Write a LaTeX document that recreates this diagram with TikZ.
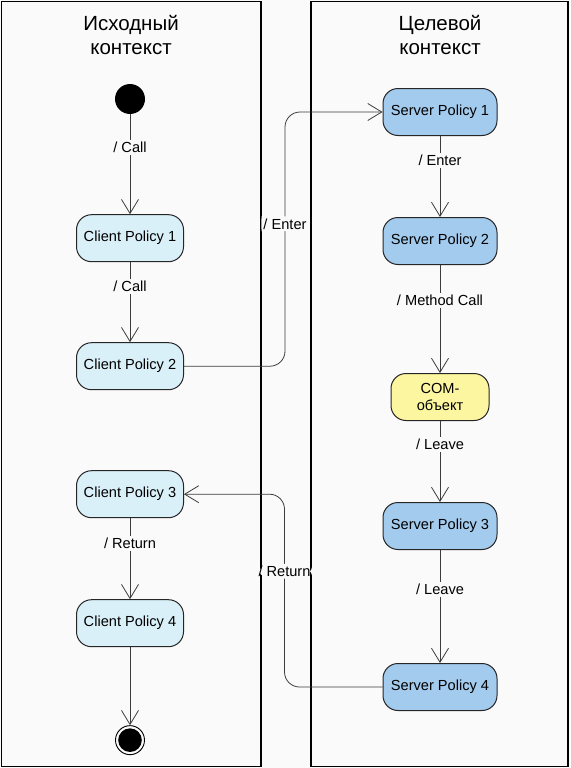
\documentclass[tikz,border=0pt]{standalone}
\usepackage{fontspec}
\setmainfont{Liberation Sans}
\usetikzlibrary{positioning,arrows.meta}

\definecolor{clientfill}{RGB}{218,240,248}
\definecolor{serverfill}{RGB}{163,203,238}
\definecolor{comfill}{RGB}{252,246,160}
\definecolor{edgegray}{RGB}{60,60,60}
\definecolor{pagebg}{RGB}{250,250,250}

\begin{document}
\begin{tikzpicture}[
    x=1pt, y=-1pt,
    lane/.style={draw=black, line width=1.5pt},
    title/.style={align=center, font=\fontsize{20.5}{24}\selectfont},
    state/.style={rectangle, draw=black!85, rounded corners=15pt, line width=1pt,
                  minimum height=47pt, align=center,
                  font=\fontsize{14.6}{17}\selectfont},
    client/.style={state, fill=clientfill, minimum width=107pt},
    server/.style={state, fill=serverfill, minimum width=114pt},
    comobj/.style={state, fill=comfill, minimum width=98pt},
    startdot/.style={circle, fill=black, minimum size=30pt, inner sep=0pt},
    enddot/.style={circle, draw=black, line width=0.9pt, minimum size=29pt, inner sep=0pt,
                   path picture={\fill[black] (path picture bounding box.center) circle (11.8pt);}},
    flow/.style={-{Straight Barb[length=14pt,width=17pt]}, draw=edgegray, line width=0.8pt},
    lbl/.style={fill=pagebg, inner sep=2pt, font=\fontsize{14.6}{17}\selectfont}
]
    \fill[pagebg] (0,0) rectangle (570,768);
    \useasboundingbox (0,0) rectangle (570,768);

    % swimlanes
    \draw[lane] (1.5,1.5) rectangle (261,766.5);
    \draw[lane] (311,1.5) rectangle (568,766.5);
    \node[title] (srctitle) at (131,35) {Исходный\\контекст};
    \node[title] (dsttitle) at (440,35) {Целевой\\контекст};

    % client side
    \node[startdot] (start) at (130,99) {};
    \node[client, below=100pt of start] (cp1) {Client Policy 1};
    \node[client, below=80pt of cp1] (cp2) {Client Policy 2};
    \node[client, below=80pt of cp2] (cp3) {Client Policy 3};
    \node[client, below=81pt of cp3] (cp4) {Client Policy 4};
    \node[enddot, below=78pt of cp4] (stop) {};

    % server side
    \node[server] (sp1) at (440,112) {Server Policy 1};
    \node[server, below=81pt of sp1] (sp2) {Server Policy 2};
    \node[comobj, below=108pt of sp2] (com) {COM-\\объект};
    \node[server, below=81pt of com] (sp3) {Server Policy 3};
    \node[server, below=113pt of sp3] (sp4) {Server Policy 4};

    \draw[flow] (start) -- node[lbl, pos=0.33] {/ Call} (cp1);
    \draw[flow] (cp1) -- node[lbl, pos=0.3] {/ Call} (cp2);
    \draw[flow] (cp3) -- node[lbl, pos=0.31] {/ Return} (cp4);
    \draw[flow] (cp4) -- (stop);

    \draw[flow] (sp1) -- node[lbl, pos=0.3] {/ Enter} (sp2);
    \draw[flow] (sp2) -- node[lbl, pos=0.33] {/ Method Call} (com);
    \draw[flow] (com) -- node[lbl, pos=0.29] {/ Leave} (sp3);
    \draw[flow] (sp3) -- node[lbl, pos=0.35] {/ Leave} (sp4);

    % between contexts
    \draw[flow, rounded corners=15pt] (cp2.east) -- ++(101,0)
        |- node[lbl, pos=0.28] {/ Enter} (sp1.west);
    \draw[flow, rounded corners=15pt] (sp4.west) -- ++(-98,0)
        |- node[lbl, pos=0.3] {/ Return} (cp3.east);
\end{tikzpicture}
\end{document}
